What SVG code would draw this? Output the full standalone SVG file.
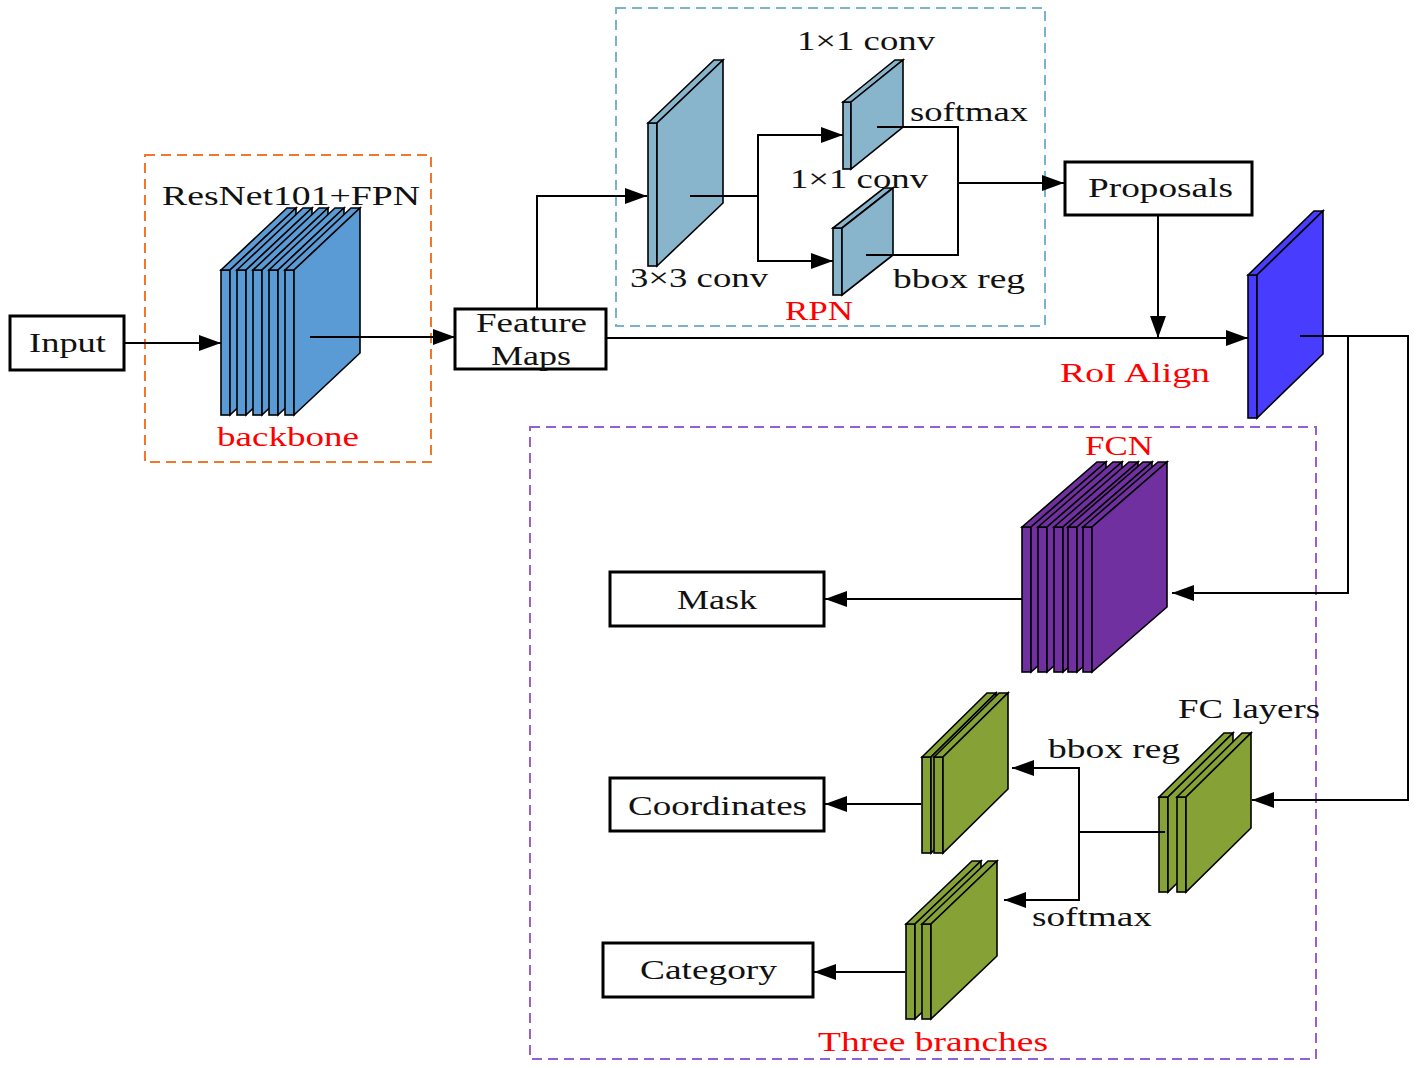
<svg xmlns="http://www.w3.org/2000/svg" width="1417" height="1068" viewBox="0 0 1417 1068">
<style>
.bg{fill:#ffffff}
.box{fill:#ffffff;stroke:#000;stroke-width:3}
.t{font-family:"Liberation Serif","Times New Roman",serif;font-size:28px;fill:#111}
.r{fill:#ff0000}
.ln{fill:none;stroke:#000;stroke-width:2}
.dash{fill:none;stroke-width:2;stroke-dasharray:10,6}
.sl{stroke:#000;stroke-width:1.6;stroke-linejoin:miter}
.blue{fill:#5b9bd5}
.lb{fill:#88b5cc}
.roi{fill:#483cff}
.pur{fill:#7030a0}
.grn{fill:#86a236}
</style>
<defs>
<marker id="ah" markerUnits="userSpaceOnUse" markerWidth="24" markerHeight="16" refX="22" refY="8" orient="auto">
<path d="M0,0 L22,8 L0,16 z" fill="#000"/>
</marker>
</defs>
<rect class="bg" x="0" y="0" width="1417" height="1068"/>

<g id="groups">
<rect id="backbone-frame" class="dash" stroke="#f0782d" x="145" y="155" width="286" height="307"/>
<rect id="rpn-frame" class="dash" stroke="#7ab2cf" x="616" y="8" width="429" height="318"/>
<rect id="branches-frame" class="dash" stroke="#9460cc" x="530" y="427" width="786" height="632"/>
</g>

<g id="input">
<rect class="box" x="10" y="316" width="114" height="54"/>
<text class="t" x="29" y="352" textLength="77" lengthAdjust="spacingAndGlyphs">Input</text>
</g>

<g id="backbone-node">
<g class="sl blue">
<rect x="221" y="270" width="9" height="145"/><polygon points="221,270 287,208 296,208 230,270"/><polygon points="230,270 296,208 296,353 230,415"/>
<rect x="237" y="270" width="9" height="145"/><polygon points="237,270 303,208 312,208 246,270"/><polygon points="246,270 312,208 312,353 246,415"/>
<rect x="253" y="270" width="9" height="145"/><polygon points="253,270 319,208 328,208 262,270"/><polygon points="262,270 328,208 328,353 262,415"/>
<rect x="269" y="270" width="9" height="145"/><polygon points="269,270 335,208 344,208 278,270"/><polygon points="278,270 344,208 344,353 278,415"/>
<rect x="285" y="270" width="9" height="145"/><polygon points="285,270 351,208 360,208 294,270"/><polygon points="294,270 360,208 360,353 294,415"/>
</g>
<text class="t" x="162" y="205" textLength="258" lengthAdjust="spacingAndGlyphs">ResNet101+FPN</text>
<text class="t r" x="217" y="446" textLength="142" lengthAdjust="spacingAndGlyphs">backbone</text>
</g>

<g id="feature-maps">
<rect class="box" x="455" y="309" width="151" height="60"/>
<text class="t" x="476" y="332" textLength="111" lengthAdjust="spacingAndGlyphs">Feature</text>
<text class="t" x="491" y="365" textLength="80" lengthAdjust="spacingAndGlyphs">Maps</text>
</g>

<g id="rpn">
<g class="sl lb">
<rect x="648" y="123" width="9" height="143"/><polygon points="648,123 714,60 723,60 657,123"/><polygon points="657,123 723,60 723,203 657,266"/>
<rect x="843" y="102" width="8" height="67"/><polygon points="843,102 895,60 903,60 851,102"/><polygon points="851,102 903,60 903,127 851,169"/>
<rect x="833" y="228" width="9" height="67"/><polygon points="833,228 884,188 893,188 842,228"/><polygon points="842,228 893,188 893,255 842,295"/>
</g>
<text class="t" x="797" y="50" textLength="138" lengthAdjust="spacingAndGlyphs">1×1 conv</text>
<text class="t" x="910" y="121" textLength="118" lengthAdjust="spacingAndGlyphs">softmax</text>
<text class="t" x="790" y="188" textLength="138" lengthAdjust="spacingAndGlyphs">1×1 conv</text>
<text class="t" x="630" y="287" textLength="138" lengthAdjust="spacingAndGlyphs">3×3 conv</text>
<text class="t" x="893" y="288" textLength="132" lengthAdjust="spacingAndGlyphs">bbox reg</text>
<text class="t r" x="785" y="320" textLength="68" lengthAdjust="spacingAndGlyphs">RPN</text>
</g>

<g id="proposals">
<rect class="box" x="1065" y="162" width="187" height="53"/>
<text class="t" x="1088" y="197" textLength="145" lengthAdjust="spacingAndGlyphs">Proposals</text>
</g>

<g id="roi-align">
<g class="sl roi">
<rect x="1248" y="275" width="9" height="143"/><polygon points="1248,275 1314,211 1323,211 1257,275"/><polygon points="1257,275 1323,211 1323,354 1257,418"/>
</g>
<text class="t r" x="1060" y="382" textLength="150" lengthAdjust="spacingAndGlyphs">RoI Align</text>
</g>

<g id="fcn">
<g class="sl pur">
<rect x="1022" y="527" width="9" height="145"/><polygon points="1022,527 1097,462 1106,462 1031,527"/><polygon points="1031,527 1106,462 1106,607 1031,672"/>
<rect x="1038" y="527" width="9" height="145"/><polygon points="1038,527 1113,462 1122,462 1047,527"/><polygon points="1047,527 1122,462 1122,607 1047,672"/>
<rect x="1054" y="527" width="9" height="145"/><polygon points="1054,527 1129,462 1138,462 1063,527"/><polygon points="1063,527 1138,462 1138,607 1063,672"/>
<rect x="1068" y="527" width="9" height="145"/><polygon points="1068,527 1143,462 1152,462 1077,527"/><polygon points="1077,527 1152,462 1152,607 1077,672"/>
<rect x="1083" y="527" width="9" height="145"/><polygon points="1083,527 1158,462 1167,462 1092,527"/><polygon points="1092,527 1167,462 1167,607 1092,672"/>
</g>
<text class="t r" x="1085" y="455" textLength="68" lengthAdjust="spacingAndGlyphs">FCN</text>
</g>

<g id="mask">
<rect class="box" x="610" y="572" width="214" height="54"/>
<text class="t" x="677" y="609" textLength="80" lengthAdjust="spacingAndGlyphs">Mask</text>
</g>

<g id="fc-layers">
<g class="sl grn">
<rect x="1159" y="797" width="9" height="95"/><polygon points="1159,797 1224,733 1233,733 1168,797"/><polygon points="1168,797 1233,733 1233,828 1168,892"/>
<rect x="1177" y="797" width="9" height="95"/><polygon points="1177,797 1242,733 1251,733 1186,797"/><polygon points="1186,797 1251,733 1251,828 1186,892"/>
</g>
<text class="t" x="1178" y="718" textLength="142" lengthAdjust="spacingAndGlyphs">FC layers</text>
<text class="t" x="1048" y="758" textLength="132" lengthAdjust="spacingAndGlyphs">bbox reg</text>
<text class="t" x="1032" y="926" textLength="120" lengthAdjust="spacingAndGlyphs">softmax</text>
</g>

<g id="bbox-branch">
<g class="sl grn">
<rect x="922" y="757" width="9" height="96"/><polygon points="922,757 987,693 996,693 931,757"/><polygon points="931,757 996,693 996,789 931,853"/>
<rect x="934" y="757" width="9" height="96"/><polygon points="934,757 999,693 1008,693 943,757"/><polygon points="943,757 1008,693 1008,789 943,853"/>
</g>
</g>

<g id="cls-branch">
<g class="sl grn">
<rect x="906" y="924" width="9" height="95"/><polygon points="906,924 972,861 981,861 915,924"/><polygon points="915,924 981,861 981,956 915,1019"/>
<rect x="922" y="924" width="9" height="95"/><polygon points="922,924 988,861 997,861 931,924"/><polygon points="931,924 997,861 997,956 931,1019"/>
</g>
<text class="t r" x="818" y="1051" textLength="230" lengthAdjust="spacingAndGlyphs">Three branches</text>
</g>

<g id="coordinates">
<rect class="box" x="610" y="778" width="214" height="53"/>
<text class="t" x="628" y="815" textLength="179" lengthAdjust="spacingAndGlyphs">Coordinates</text>
</g>

<g id="category">
<rect class="box" x="603" y="943" width="210" height="54"/>
<text class="t" x="640" y="979" textLength="137" lengthAdjust="spacingAndGlyphs">Category</text>
</g>

<g id="connectors">
<path class="ln" d="M124,343 H221" marker-end="url(#ah)"/>
<path class="ln" d="M310,337 H455" marker-end="url(#ah)"/>
<path class="ln" d="M537,309 V196 H647" marker-end="url(#ah)"/>
<path class="ln" d="M690,196 H758 V135 H843" marker-end="url(#ah)"/>
<path class="ln" d="M758,196 V261 H833" marker-end="url(#ah)"/>
<path class="ln" d="M877,127 H958 V255 H866"/>
<path class="ln" d="M958,183 H1064" marker-end="url(#ah)"/>
<path class="ln" d="M606,338 H1248" marker-end="url(#ah)"/>
<path class="ln" d="M1158,215 V338" marker-end="url(#ah)"/>
<path class="ln" d="M1300,336 H1408 V800 H1252" marker-end="url(#ah)"/>
<path class="ln" d="M1348,336 V593 H1172" marker-end="url(#ah)"/>
<path class="ln" d="M1022,599 H825" marker-end="url(#ah)"/>
<path class="ln" d="M1165,832 H1079 V768 H1012" marker-end="url(#ah)"/>
<path class="ln" d="M1079,832 V900 H1004" marker-end="url(#ah)"/>
<path class="ln" d="M921,804 H825" marker-end="url(#ah)"/>
<path class="ln" d="M905,972 H814" marker-end="url(#ah)"/>
</g>
</svg>
